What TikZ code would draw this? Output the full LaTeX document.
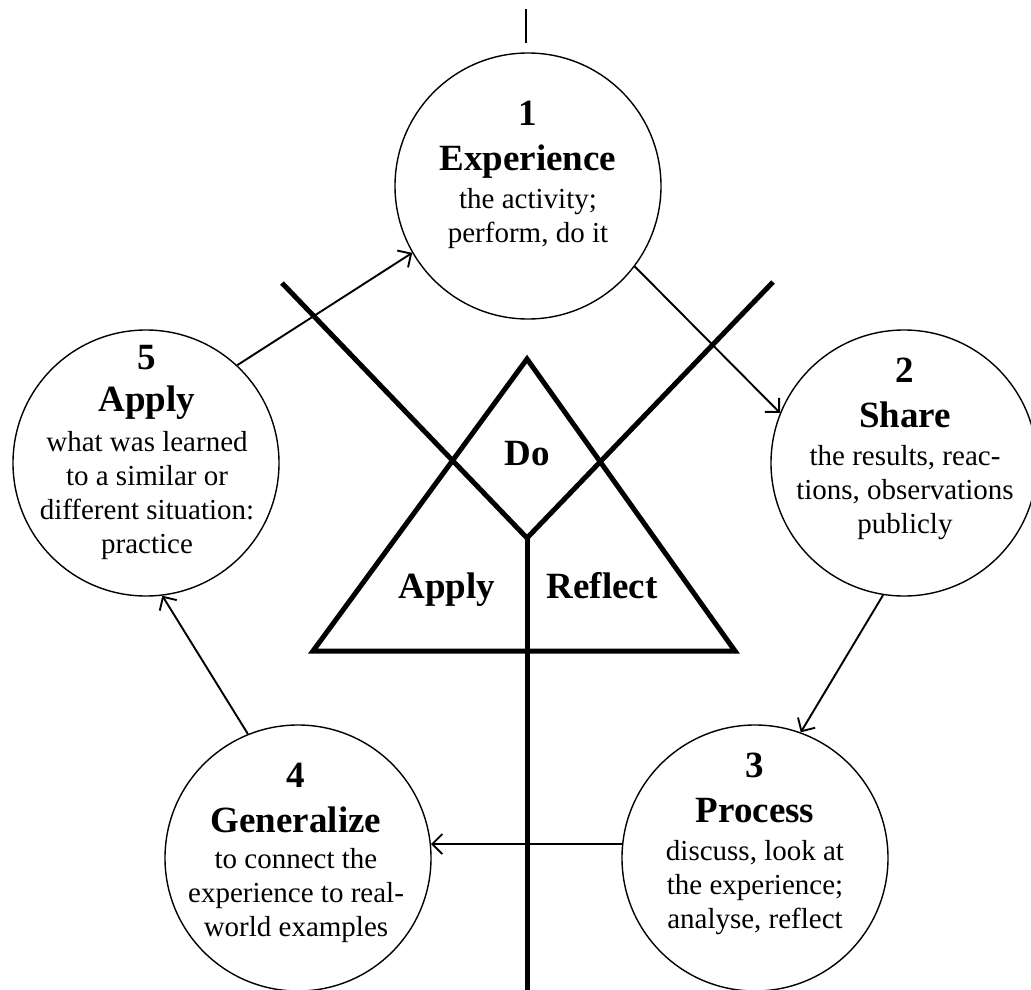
\documentclass[tikz,border=0pt]{standalone}
\usepackage{fontspec}
\setmainfont{Liberation Serif}
\usetikzlibrary{arrows.meta}
% heading and body type used inside the circles
\newcommand{\ttlfont}{\fontsize{37}{44}\selectfont\bfseries}
\newcommand{\bodyfont}{\fontsize{29}{34}\selectfont}
\begin{document}
\begin{tikzpicture}[x=1pt,y=-1pt,
  stage/.style={circle,draw,line width=1.4pt,minimum size=266pt,inner sep=0pt},
  stagetext/.style={anchor=north,align=center,inner sep=0pt,font=\bodyfont},
  flow/.style={line width=1.9pt,-{Straight Barb[length=10pt,width=20pt]}},
  heavy/.style={line width=5pt,line join=miter},
  corner/.style={font=\ttlfont,anchor=base,inner sep=0pt}]
\useasboundingbox (0,0) rectangle (1031,990);

% the five stages of the cycle
\node[stage] (c1) at (528,186) {};
\node[stage] (c2) at (904,463) {};
\node[stage] (c3) at (755,858) {};
\node[stage] (c4) at (298,858) {};
\node[stage] (c5) at (146,463) {};

\node[stagetext] (t1) at (528,101) {{\ttlfont 1}\\[11pt]{\ttlfont Experience}\\[4pt]the activity;\\perform, do it};
\node[stagetext] (t2) at (905,358) {{\ttlfont 2}\\[11pt]{\ttlfont Share}\\[4pt]the results, reac-\\tions, observations\\publicly};
\node[stagetext] (t3) at (755,753) {{\ttlfont 3}\\[11pt]{\ttlfont Process}\\[4pt]discuss, look at\\the experience;\\analyse, reflect};
\node[stagetext] (t4) at (296,763) {{\ttlfont 4}\\[11pt]{\ttlfont Generalize}\\[2pt]to connect the\\experience to real-\\world examples};
\node[stagetext] (t5) at (147,345) {{\ttlfont 5}\\[8pt]{\ttlfont Apply}\\[6pt]what was learned\\to a similar or\\different situation:\\practice};

% arrows running round the cycle
\draw[flow] (c5.47) -- (c1.210);
\draw[flow] (c1.-37) -- (c2.158);
\draw[flow] (c2.-99) -- (c3.70);
\draw[flow] (c3.174) -- (c4.6);
\draw[flow] (c4.112) -- (c5.-83);

% short mark above the first stage
\coordinate (topA) at (526,9);
\coordinate (topB) at (526,43);
\draw[line width=1.4pt] (topA) -- (topB);

% the Do / Apply / Reflect triangle
\coordinate (tA) at (527,359);
\coordinate (tL) at (313,651);
\coordinate (tR) at (735,651);
\draw[heavy] (tA) -- (tL) -- (tR) -- cycle;

\coordinate (vL) at (282,283);
\coordinate (vB) at (527,538);
\coordinate (vR) at (773,282);
\coordinate (stemEnd) at (527,995);
\draw[heavy] (vL) -- (vB) -- (vR);
\draw[heavy] (vB) -- (stemEnd);

\node[corner] (doLbl) at (527,465) {Do};
\node[corner] (applyLbl) at (447,598) {Apply};
\node[corner] (reflectLbl) at (602,598) {Reflect};
\end{tikzpicture}
\end{document}
